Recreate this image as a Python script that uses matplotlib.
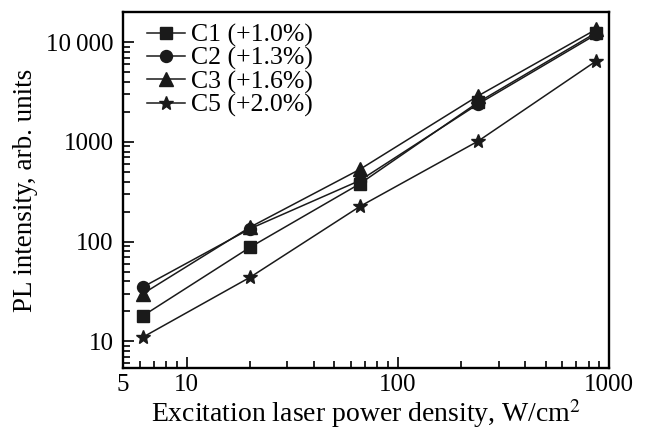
import matplotlib
matplotlib.use("Agg")
import matplotlib.pyplot as plt
from matplotlib.ticker import FixedLocator, FuncFormatter, LogLocator, NullFormatter

plt.rcParams['font.family'] = ['Liberation Serif', 'DejaVu Serif']
plt.rcParams['mathtext.fontset'] = 'stix'

power = [6.2, 20, 66, 240, 870]
c1 = [18, 88, 380, 2500, 12500]
c2 = [35, 135, 410, 2400, 12000]
c3 = [30, 140, 530, 2900, 13500]
c5 = [11, 44, 225, 1020, 6500]
labels = ['C1 (+1.0%)', 'C2 (+1.3%)', 'C3 (+1.6%)', 'C5 (+2.0%)']
xticks = [5, 10, 100, 1000]
xticklabels = ['5', '10', '100', '1000']
yticks = [10, 100, 1000, 10000]
yticklabels = ['10', '100', '1000', '10\u2009000']

fig = plt.figure(figsize=(6.48, 4.36), dpi=100)
ax = fig.add_axes([0.190, 0.156, 0.750, 0.816])

series = [c1, c2, c3, c5]
markers = ['s', 'o', '^', '*']
sizes = [8, 8.6, 9.4, 10.5]
for ys, m, ms, lab in zip(series, markers, sizes, labels):
    ax.plot(power, ys, color='#1a1a1a', lw=1.1, marker=m, ms=ms, label=lab)

ax.set_xscale('log')
ax.set_yscale('log')
ax.set_xlim(5, 1000)
ax.set_ylim(5.4, 20000)

ax.xaxis.set_major_locator(FixedLocator(xticks))
ax.xaxis.set_major_formatter(FuncFormatter(lambda v, p: xticklabels[xticks.index(round(v))] if round(v) in xticks else ''))
ax.xaxis.set_minor_locator(LogLocator(base=10, subs=range(2, 10)))
ax.xaxis.set_minor_formatter(NullFormatter())
ax.yaxis.set_major_locator(FixedLocator(yticks))
ax.yaxis.set_major_formatter(FuncFormatter(lambda v, p: yticklabels[yticks.index(round(v))] if round(v) in yticks else ''))
ax.yaxis.set_minor_locator(LogLocator(base=10, subs=range(2, 10)))
ax.yaxis.set_minor_formatter(NullFormatter())

ax.tick_params(which='both', direction='in', top=False, right=False, labelsize=18, width=1.2)
ax.tick_params(which='major', length=8)
ax.tick_params(which='minor', length=5)
ax.tick_params(axis='x', pad=4)
ax.tick_params(axis='y', pad=7)
for s in ax.spines.values():
    s.set_linewidth(1.7)

ax.set_xlabel('Excitation laser power density, W/cm$^2$', fontsize=20, labelpad=1)
ax.set_ylabel('PL intensity, arb. units', fontsize=19.5, labelpad=6)

leg = ax.legend(loc='upper left', frameon=False, fontsize=18.5, handlelength=1.5,
                handletextpad=0.2, labelspacing=0.0, borderaxespad=0.0,
                borderpad=0.0, bbox_to_anchor=(0.049, 0.968))

fig.savefig('out.png', dpi=100)
